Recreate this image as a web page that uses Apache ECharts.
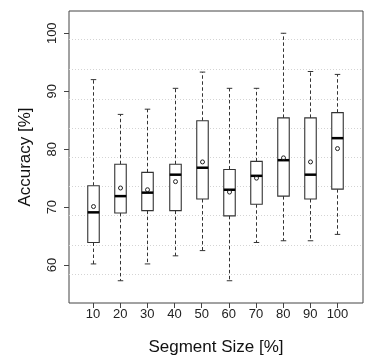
<!DOCTYPE html>
<html>
<head>
<meta charset="utf-8">
<script src="https://cdn.jsdelivr.net/npm/echarts@6/dist/echarts.min.js"></script>
<style>
html,body{margin:0;padding:0;background:#fff;}
#chart{width:367px;height:361px;}
</style>
</head>
<body>
<div id="chart"></div>
<script>
const categories = [10, 20, 30, 40, 50, 60, 70, 80, 90, 100];
const whiskerLow = [60.2, 57.3, 60.2, 61.6, 62.5, 57.3, 63.9, 64.2, 64.2, 65.3];
const q1 = [63.9, 69.0, 69.4, 69.4, 71.4, 68.5, 70.5, 71.9, 71.4, 73.1];
const median = [69.1, 71.9, 72.5, 75.6, 76.8, 73.0, 75.4, 78.1, 75.6, 81.9];
const q3 = [73.7, 77.4, 76.0, 77.4, 84.9, 76.5, 77.9, 85.4, 85.4, 86.3];
const whiskerHigh = [92.0, 86.0, 86.9, 90.5, 93.3, 90.5, 90.5, 100.0, 93.4, 92.9];
const means = [70.1, 73.3, 73.0, 74.4, 77.8, 72.6, 75.0, 78.5, 77.8, 80.1];
const yTicks = [60, 70, 80, 90, 100];
const gridLineValues = [58.45, 63.44, 68.54, 73.65, 78.6, 83.64, 88.69, 93.8, 98.92];

const boxData = categories.map((c, i) => [c, whiskerLow[i], q1[i], median[i], q3[i], whiskerHigh[i], means[i]]);

const FONT = '"Liberation Sans", Arial, Helvetica, sans-serif';
const chart = echarts.init(document.getElementById('chart'), null, {renderer: 'canvas'});

function renderBox(params, api) {
  const x = api.value(0);
  const pt = (v) => api.coord([x, v]);
  const lo = pt(api.value(1)), b1 = pt(api.value(2)), md = pt(api.value(3));
  const b3 = pt(api.value(4)), hi = pt(api.value(5)), mn = pt(api.value(6));
  const cx = Math.round(lo[0]) + 0.5;
  const hw = 5.75, cw = 2.75;
  const dashStyle = {stroke: '#333', lineWidth: 1, lineDash: [3.5, 2.5], fill: null};
  const solid = {stroke: '#333', lineWidth: 1, fill: null};
  return {
    type: 'group',
    children: [
      {type: 'line', shape: {x1: cx, y1: b3[1], x2: cx, y2: hi[1]}, style: dashStyle},
      {type: 'line', shape: {x1: cx, y1: b1[1], x2: cx, y2: lo[1]}, style: dashStyle},
      {type: 'line', shape: {x1: cx - cw, y1: hi[1], x2: cx + cw, y2: hi[1]}, style: solid},
      {type: 'line', shape: {x1: cx - cw, y1: lo[1], x2: cx + cw, y2: lo[1]}, style: solid},
      {type: 'rect', shape: {x: cx - hw, y: b3[1], width: hw * 2, height: b1[1] - b3[1]},
        style: {fill: '#fff', stroke: '#333', lineWidth: 1.1}},
      {type: 'line', shape: {x1: cx - hw, y1: md[1], x2: cx + hw, y2: md[1]},
        style: {stroke: '#000', lineWidth: 2.5}},
      {type: 'circle', shape: {cx: cx, cy: mn[1], r: 2},
        style: {fill: null, stroke: '#222', lineWidth: 1}}
    ]
  };
}

chart.setOption({
  animation: false,
  backgroundColor: '#fff',
  grid: {
    left: 69, right: 4, top: 11, bottom: 58,
    show: true, borderColor: '#444', borderWidth: 1, backgroundColor: 'transparent',
    containLabel: false
  },
  xAxis: {
    type: 'value', min: 1.15, max: 109.4,
    name: 'Segment Size [%]', nameLocation: 'middle', nameGap: 36,
    nameTextStyle: {fontFamily: FONT, fontSize: 17, color: '#111'},
    axisLine: {show: false},
    axisTick: {show: true, inside: false, length: 5, lineStyle: {color: '#444'}, customValues: categories},
    axisLabel: {show: true, margin: 5, fontFamily: FONT, fontSize: 13, color: '#222', customValues: categories},
    splitLine: {show: false}
  },
  yAxis: {
    type: 'value', min: 53.46, max: 103.84,
    name: 'Accuracy [%]', nameLocation: 'middle', nameGap: 35,
    nameTextStyle: {fontFamily: FONT, fontSize: 17, color: '#111'},
    axisLine: {show: false},
    axisTick: {show: true, inside: false, length: 5, lineStyle: {color: '#444'}, customValues: yTicks},
    axisLabel: {show: true, rotate: 90, margin: 10, fontFamily: FONT, fontSize: 13, color: '#222', customValues: yTicks},
    splitLine: {show: false}
  },
  series: [
    {
      type: 'line',
      data: [],
      silent: true,
      z: 1,
      markLine: {
        silent: true, symbol: ['none', 'none'], z: 1,
        label: {show: false},
        lineStyle: {color: '#d4d4d4', type: [1, 2], width: 1},
        data: gridLineValues.map(v => ({yAxis: v}))
      }
    },
    {
      type: 'custom',
      z: 10,
      renderItem: renderBox,
      encode: {x: 0, y: [1, 2, 3, 4, 5, 6]},
      data: boxData
    }
  ]
});
</script>
</body>
</html>
